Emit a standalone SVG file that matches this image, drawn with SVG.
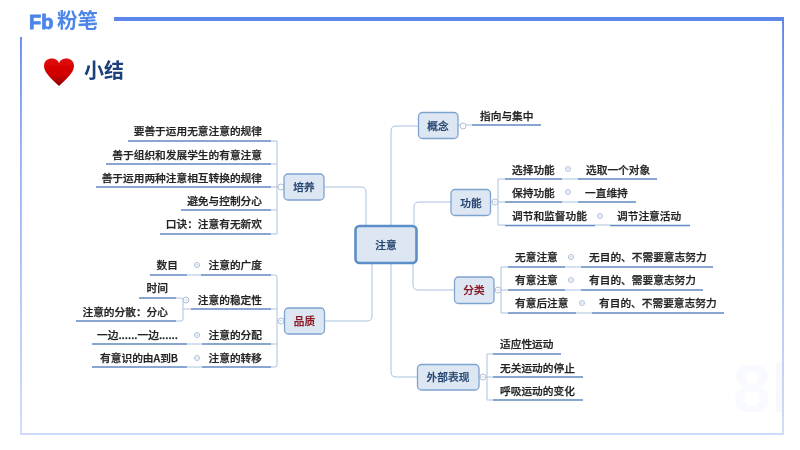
<svg xmlns="http://www.w3.org/2000/svg" width="800" height="450" viewBox="0 0 800 450">
<style>
text{font-family:"Noto Sans CJK SC","Liberation Sans",sans-serif;font-size:10.7px;font-weight:500;fill:#222;stroke:#222;stroke-width:.25px}
.e{text-anchor:end}
.m{text-anchor:middle}
.u{stroke:#5f8ac2;stroke-width:1.6;fill:none}
.c{stroke:#a9c2de;stroke-width:1;fill:none}
.k{stroke:#aebfd6;stroke-width:1;fill:#fff}
.d{stroke:#9fb3cc;stroke-width:.6;fill:none}
.n{fill:#dde7f3;stroke:#7ea3cf;stroke-width:1.3}
.nt{fill:#25446f;stroke:#25446f}
.r{fill:#8a1a24;stroke:#8a1a24}
</style>
<defs>
<linearGradient id="fr" gradientUnits="userSpaceOnUse" x1="0" y1="18" x2="0" y2="435">
<stop offset="0" stop-color="#5c86ea"/><stop offset=".3" stop-color="#96b0f0"/><stop offset="1" stop-color="#cfdcf9"/>
</linearGradient>
<linearGradient id="ht" x1="0" y1="0" x2="0" y2="1">
<stop offset="0" stop-color="#e00808"/><stop offset=".6" stop-color="#cf0404"/><stop offset="1" stop-color="#8c0202"/>
</linearGradient>
<filter id="soft" x="0" y="0" width="100%" height="100%"><feGaussianBlur stdDeviation=".3"/></filter>
</defs>
<rect width="800" height="450" fill="#fff"/>
<g filter="url(#soft)">
<text x="733" y="412" style="font-family:'Liberation Sans',sans-serif;font-size:68px;font-weight:700;fill:#f9faff;stroke:none">8</text>
<rect x="776" y="362" width="6" height="50" fill="#f7f9ff"/>
<path d="M114 19H784V435H20V37" fill="none" stroke="url(#fr)" stroke-width="3.800"/>
<g id="logo">
<text x="29" y="29" style="font-family:'Liberation Sans',sans-serif;font-size:20px;font-weight:700;fill:#4d86ea;stroke:#4d86ea;stroke-width:.8px;stroke-linejoin:round">Fb</text>
<text x="57" y="28" style="font-size:20.500px;font-weight:700;fill:#4d86ea;stroke:none">粉笔</text>
</g>
<g id="title">
<path d="M59 86C52 79 44 73 44 66C44 60 49 58.500 52 58.500C55 58.500 58 60 59 63C60 60 63 58.500 66 58.500C69 58.500 74 60 74 66C74 73 66 79 59 86Z" fill="url(#ht)"/>
<text x="84" y="78" style="font-size:20px;font-weight:700;fill:#1c3f7c;stroke:none">小结</text>
</g>
<g id="connectors">
<path class="c" d="M366 225V192Q366 187 361 187H324"/>
<path class="c" d="M372 263V316Q372 321 367 321H325"/>
<path class="c" d="M391 225V131Q391 126 396 126H418"/>
<path class="c" d="M414 225V207Q414 202 419 202H451"/>
<path class="c" d="M413 263V285Q413 290 418 290H454"/>
<path class="c" d="M391 263V372Q391 377 396 377H417"/>
<path class="c" d="M271 141H277V234H271M271 164H277M271 187H284M271 210H277"/>
<path class="c" d="M271 275H275Q277 275 277 277V365Q277 367 275 367H271M271 309H277M271 344H277M277 321H284"/>
<path class="c" d="M176 298H181Q183 298 183 300V319Q183 321 181 321H176M183 309H191"/>
<path class="c" d="M187 275H201M187 344H202M187 367H202"/>
<path class="c" d="M505 179H498V225H505M490 202H505"/>
<path class="c" d="M562 179H578M562 202H578M595 225H610"/>
<path class="c" d="M508 267H501V313H508M494 290H508"/>
<path class="c" d="M565 267H581M565 290H581M576 313H592"/>
<path class="c" d="M493 354H487V400H493M479 377H493"/>
<path class="c" d="M458 125H472"/>
<g id="collapse-marks">
<circle class="k" cx="281" cy="187" r="3"/><circle class="k" cx="281" cy="321" r="3"/>
<circle class="k" cx="197" cy="265" r="2.500"/><circle class="k" cx="186" cy="300" r="3"/><circle class="k" cx="197" cy="335" r="2.500"/><circle class="k" cx="197" cy="358" r="2.500"/>
<circle class="k" cx="463" cy="126" r="3"/><circle class="k" cx="495" cy="202" r="3"/><circle class="k" cx="498" cy="290" r="3"/><circle class="k" cx="483" cy="377" r="3"/>
<circle class="k" cx="568" cy="169" r="2.500"/><circle class="k" cx="568" cy="192" r="2.500"/><circle class="k" cx="600" cy="216" r="2.500"/>
<circle class="k" cx="571" cy="257" r="2.500"/><circle class="k" cx="571" cy="280" r="2.500"/><circle class="k" cx="582" cy="303" r="2.500"/>
<path class="d" d="M195.500 265H198.500M184.500 300H187.500M195.500 335H198.500M195.500 358H198.500M279.500 321H282.500M493.500 202H496.500M496.500 290H499.500M481.500 377H484.500M566.500 169H569.500M566.500 192H569.500M598.500 216H601.500M569.500 257H572.500M569.500 280H572.500M580.500 303H583.500"/>
</g>
</g>
<g id="n-center"><rect class="n" x="355.500" y="226" width="61" height="37" rx="4" style="stroke:#5b8fc9;stroke-width:2.600"/><text class="m nt" x="386" y="249">注意</text></g>
<g id="n-peiyang"><rect class="n" x="284" y="174" width="40" height="26" rx="4"/><text class="m nt" x="304" y="191">培养</text></g>
<g id="n-pinzhi"><rect class="n" x="284.500" y="308" width="40" height="26" rx="4"/><text class="m r" x="304.500" y="325">品质</text></g>
<g id="n-gainian"><rect class="n" x="418.500" y="112.500" width="39.500" height="26" rx="4"/><text class="m nt" x="438" y="129.500">概念</text></g>
<g id="n-gongneng"><rect class="n" x="451" y="189.500" width="39.500" height="26" rx="4"/><text class="m nt" x="471" y="206.500">功能</text></g>
<g id="n-fenlei"><rect class="n" x="454.500" y="277" width="39.500" height="26.500" rx="4"/><text class="m r" x="474" y="294">分类</text></g>
<g id="n-waibu"><rect class="n" x="417.500" y="364.500" width="61.500" height="25.500" rx="4"/><text class="m nt" x="448" y="381">外部表现</text></g>
<g id="l-p1"><path class="u" d="M128 141H271"/><text class="e" x="262" y="135">要善于运用无意注意的规律</text></g>
<g id="l-p2"><path class="u" d="M106 164H271"/><text class="e" x="262" y="159">善于组织和发展学生的有意注意</text></g>
<g id="l-p3"><path class="u" d="M96 187H271"/><text class="e" x="262" y="182">善于运用两种注意相互转换的规律</text></g>
<g id="l-p4"><path class="u" d="M181 210H271"/><text class="e" x="262" y="205">避免与控制分心</text></g>
<g id="l-p5"><path class="u" d="M160 234H271"/><text class="e" x="262" y="228">口诀：注意有无新欢</text></g>
<g id="l-q1"><path class="u" d="M201 275H271"/><text class="e" x="262" y="269">注意的广度</text></g>
<g id="l-q1a"><path class="u" d="M150 275H187"/><text class="e" x="178" y="269">数目</text></g>
<g id="l-q2"><path class="u" d="M191 309H271"/><text class="e" x="262" y="304">注意的稳定性</text></g>
<g id="l-q2a"><path class="u" d="M139 298H176"/><text class="e" x="168" y="292">时间</text></g>
<g id="l-q2b"><path class="u" d="M76 321H176"/><text class="e" x="168" y="316">注意的分散：分心</text></g>
<g id="l-q3"><path class="u" d="M202 344H271"/><text class="e" x="262" y="339">注意的分配</text></g>
<g id="l-q3a"><path class="u" d="M92 344H187"/><text class="e" x="178" y="339">一边......一边......</text></g>
<g id="l-q4"><path class="u" d="M202 367H271"/><text class="e" x="262" y="362">注意的转移</text></g>
<g id="l-q4a"><path class="u" d="M92 367H187"/><text class="e" x="178" y="362">有意识的由A到B</text></g>
<g id="l-g1"><path class="u" d="M472 125H541"/><text x="480" y="120">指向与集中</text></g>
<g id="l-f1"><path class="u" d="M505 179H562"/><text x="512" y="174">选择功能</text></g>
<g id="l-f1a"><path class="u" d="M578 179H657"/><text x="586" y="174">选取一个对象</text></g>
<g id="l-f2"><path class="u" d="M505 202H562"/><text x="512" y="197">保持功能</text></g>
<g id="l-f2a"><path class="u" d="M578 202H636"/><text x="585" y="197">一直维持</text></g>
<g id="l-f3"><path class="u" d="M505 225.500H595"/><text x="512" y="220">调节和监督功能</text></g>
<g id="l-f3a"><path class="u" d="M610 225.500H690"/><text x="617" y="220">调节注意活动</text></g>
<g id="l-c1"><path class="u" d="M508 267H565"/><text x="515" y="261">无意注意</text></g>
<g id="l-c1a"><path class="u" d="M581 267H713"/><text x="589" y="261">无目的、不需要意志努力</text></g>
<g id="l-c2"><path class="u" d="M508 290H565"/><text x="515" y="284">有意注意</text></g>
<g id="l-c2a"><path class="u" d="M581 290H703"/><text x="589" y="284">有目的、需要意志努力</text></g>
<g id="l-c3"><path class="u" d="M508 313H576"/><text x="515" y="307">有意后注意</text></g>
<g id="l-c3a"><path class="u" d="M592 313H724"/><text x="599" y="307">有目的、不需要意志努力</text></g>
<g id="l-w1"><path class="u" d="M493 354H561"/><text x="500" y="348">适应性运动</text></g>
<g id="l-w2"><path class="u" d="M493 377H583"/><text x="500" y="372">无关运动的停止</text></g>
<g id="l-w3"><path class="u" d="M493 400H583"/><text x="500" y="395">呼吸运动的变化</text></g>
</g>
</svg>
